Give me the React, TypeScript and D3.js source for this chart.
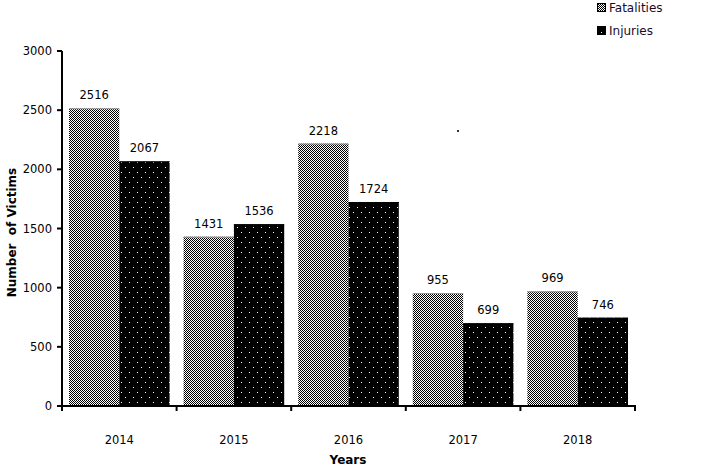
import React, { useEffect, useRef } from 'react';
import * as d3 from 'd3';

const years = ['2014', '2015', '2016', '2017', '2018'];
const fatalities = [2516, 1431, 2218, 955, 969];
const injuries = [2067, 1536, 1724, 699, 746];
const yTicks = [0, 500, 1000, 1500, 2000, 2500, 3000];

const FONT = 'Verdana, "DejaVu Sans", sans-serif';

const App: React.FC = () => {
  const svgRef = useRef<SVGSVGElement>(null);

  useEffect(() => {
    if (!svgRef.current) return;
    const svg = d3.select(svgRef.current);
    svg.selectAll('*').remove();

    const left = 62;
    const right = 635;
    const top = 51;
    const bottom = 406;

    // Patterns
    const defs = svg.append('defs');
    const checker = defs
      .append('pattern')
      .attr('id', 'checker')
      .attr('patternUnits', 'userSpaceOnUse')
      .attr('width', 2)
      .attr('height', 2);
    checker.append('rect').attr('width', 2).attr('height', 2).attr('fill', '#fff');
    checker.append('rect').attr('width', 1).attr('height', 1).attr('fill', '#000');
    checker.append('rect').attr('x', 1).attr('y', 1).attr('width', 1).attr('height', 1).attr('fill', '#000');

    const dots = defs
      .append('pattern')
      .attr('id', 'dots')
      .attr('patternUnits', 'userSpaceOnUse')
      .attr('width', 8)
      .attr('height', 10);
    dots.append('rect').attr('width', 8).attr('height', 10).attr('fill', '#000');
    dots.append('rect').attr('x', 1).attr('y', 2).attr('width', 1).attr('height', 1).attr('fill', '#fff');
    dots.append('rect').attr('x', 5).attr('y', 7).attr('width', 1).attr('height', 1).attr('fill', '#fff');

    const x = d3.scaleBand<string>().domain(years).range([left, right]).paddingInner(0).paddingOuter(0);
    const y = d3.scaleLinear().domain([0, 3000]).range([bottom, top]);

    const bw = x.bandwidth();
    const pad = 7;
    const barW = (bw - 2 * pad) / 2;

    const series = [
      { name: 'Fatalities', values: fatalities, fill: 'url(#checker)', stroke: '#999' },
      { name: 'Injuries', values: injuries, fill: 'url(#dots)', stroke: '#000' },
    ];

    series.forEach((s, si) => {
      const g = svg.append('g');
      g.selectAll('rect')
        .data(s.values)
        .enter()
        .append('rect')
        .attr('x', (_d, i) => (x(years[i]) || 0) + pad + si * barW)
        .attr('y', (d) => y(d))
        .attr('width', barW)
        .attr('height', (d) => bottom - y(d))
        .attr('fill', s.fill);
      g.selectAll('line')
        .data(s.values)
        .enter()
        .append('line')
        .attr('x1', (_d, i) => (x(years[i]) || 0) + pad + si * barW)
        .attr('x2', (_d, i) => (x(years[i]) || 0) + pad + (si + 1) * barW)
        .attr('y1', (d) => y(d) + 0.5)
        .attr('y2', (d) => y(d) + 0.5)
        .attr('stroke', s.stroke)
        .attr('stroke-width', 1);
      g.selectAll('text')
        .data(s.values)
        .enter()
        .append('text')
        .attr('x', (_d, i) => (x(years[i]) || 0) + pad + si * barW + barW / 2)
        .attr('y', (d) => y(d) - 9)
        .attr('text-anchor', 'middle')
        .attr('font-family', FONT)
        .attr('font-size', 11.5)
        .attr('fill', '#000')
        .text((d) => String(d));
    });

    // Y axis
    svg
      .append('line')
      .attr('x1', left)
      .attr('x2', left)
      .attr('y1', top)
      .attr('y2', bottom)
      .attr('stroke', '#000')
      .attr('stroke-width', 2);
    const yg = svg.append('g');
    yTicks.forEach((t) => {
      yg.append('line')
        .attr('x1', left - 5)
        .attr('x2', left)
        .attr('y1', y(t))
        .attr('y2', y(t))
        .attr('stroke', '#000')
        .attr('stroke-width', 2);
      yg.append('text')
        .attr('x', left - 10)
        .attr('y', y(t) + 4)
        .attr('text-anchor', 'end')
        .attr('font-family', FONT)
        .attr('font-size', 11.5)
        .text(String(t));
    });

    // X axis
    svg
      .append('line')
      .attr('x1', left - 5)
      .attr('x2', right + 1)
      .attr('y1', bottom)
      .attr('y2', bottom)
      .attr('stroke', '#000')
      .attr('stroke-width', 2);
    const bounds = years.map((yr) => x(yr) || 0).concat([right]);
    bounds.forEach((b) => {
      svg
        .append('line')
        .attr('x1', b)
        .attr('x2', b)
        .attr('y1', bottom)
        .attr('y2', bottom + 5)
        .attr('stroke', '#000')
        .attr('stroke-width', 2);
    });
    years.forEach((yr) => {
      svg
        .append('text')
        .attr('x', (x(yr) || 0) + bw / 2)
        .attr('y', 444)
        .attr('text-anchor', 'middle')
        .attr('font-family', FONT)
        .attr('font-size', 11.5)
        .text(yr);
    });

    // Axis titles
    svg
      .append('text')
      .attr('x', 348)
      .attr('y', 464)
      .attr('text-anchor', 'middle')
      .attr('font-family', FONT)
      .attr('font-size', 12)
      .attr('font-weight', 'bold')
      .text('Years');
    svg
      .append('text')
      .attr('transform', `translate(16,${(top + bottom) / 2 + 4}) rotate(-90)`)
      .attr('text-anchor', 'middle')
      .attr('font-family', FONT)
      .attr('font-size', 12)
      .attr('font-weight', 'bold')
      .attr('xml:space', 'preserve')
      .style('white-space', 'pre')
      .text('Number  of Victims');

    // Legend
    series.forEach((s, i) => {
      const ly = 8 + i * 23;
      svg
        .append('rect')
        .attr('x', 597.5)
        .attr('y', ly - 4.5)
        .attr('width', 8)
        .attr('height', 8)
        .attr('fill', s.fill)
        .attr('stroke', '#000')
        .attr('stroke-width', 1);
      svg
        .append('text')
        .attr('x', 609)
        .attr('y', ly + 4)
        .attr('font-family', FONT)
        .attr('font-size', 12)
        .attr('fill', '#1a0a2a')
        .text(s.name);
    });

    // stray dot in the original
    svg.append('rect').attr('x', 457).attr('y', 130).attr('width', 2).attr('height', 2).attr('fill', '#333');
  }, []);

  return (
    <svg
      ref={svgRef}
      width={720}
      height={467}
      style={{ position: 'absolute', left: 0, top: 0, display: 'block', background: '#fff' }}
    />
  );
};

export default App;
